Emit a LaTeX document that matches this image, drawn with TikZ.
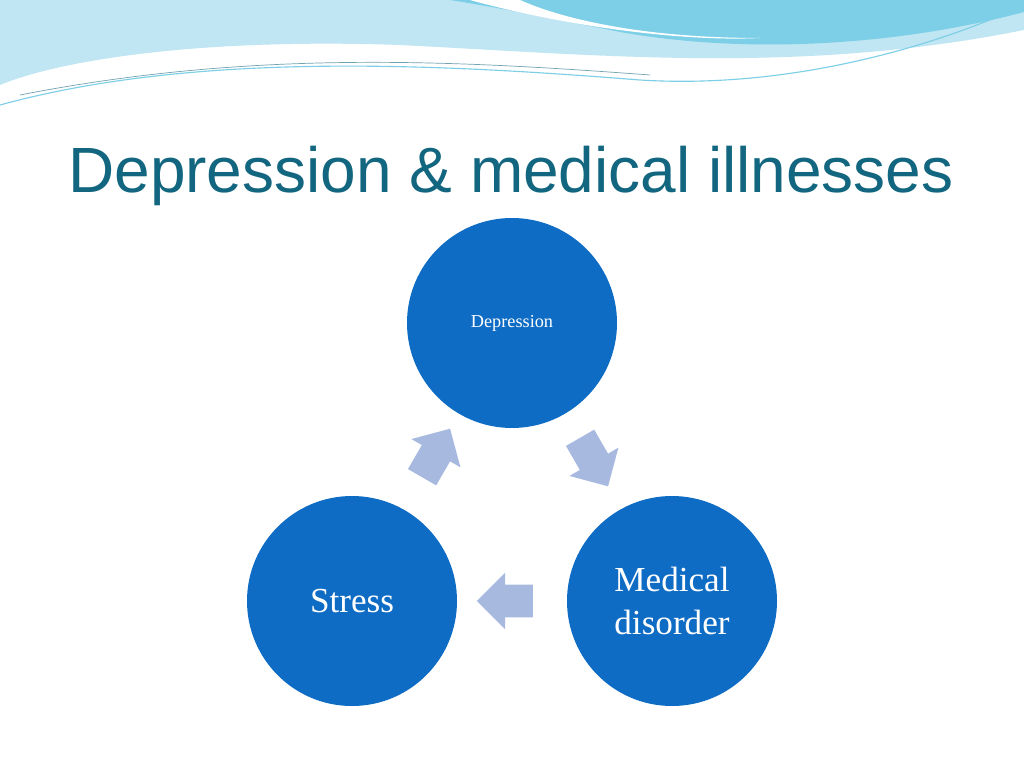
\documentclass[tikz,border=0pt]{standalone}
\usepackage{fontspec}
\setmainfont{Liberation Serif}
\newfontfamily\titlefont{Liberation Sans}
\usetikzlibrary{shapes.arrows}
\definecolor{circblue}{HTML}{0F6CC4}
\definecolor{arrowblue}{HTML}{A8B9E0}
\definecolor{titleblue}{HTML}{12667F}
\definecolor{wavelight}{HTML}{BFE6F2}
\definecolor{wavemid}{HTML}{7CCFE6}
\tikzset{
  cycnode/.style={circle,fill=circblue,minimum size=210*0.025cm,inner sep=0pt,text=white,align=center},
  flowarrow/.style={single arrow,fill=arrowblue,minimum height=56*0.025cm,inner xsep=0pt,inner ysep=0.4cm,single arrow head extend=0.3cm,single arrow head indent=0cm}
}
\begin{document}
\begin{tikzpicture}[x=0.025cm,y=-0.025cm]
\useasboundingbox[fill=white] (0,0) rectangle (1024,768);
% wave at top
\fill[wavelight] (0,0) -- (1024,0) -- (1024,30) .. controls (800,75) and (600,55) .. (400,45) .. controls (200,38) and (60,60) .. (0,85) -- cycle;
\fill[wavemid] (450,0) -- (1024,0) -- (1024,12) .. controls (900,45) and (750,55) .. (620,32) .. controls (550,18) and (500,8) .. (450,0) -- cycle;
\fill[white] (470,0) .. controls (560,25) and (680,42) .. (760,38) .. controls (640,38) and (560,18) .. (520,0) -- cycle;
\draw[wavemid,line width=0.8pt] (0,105) .. controls (200,50) and (450,65) .. (640,80) .. controls (800,90) and (950,40) .. (1024,5);
\draw[titleblue!60,line width=0.5pt] (20,95) .. controls (250,50) and (450,60) .. (650,75);
% title
\node[text=titleblue,font=\titlefont\fontsize{45.5}{52}\selectfont] (title) at (511,176) {Depression \& medical illnesses};
% cycle
\node[cycnode,font=\fontsize{13}{15}\selectfont] (dep) at (512,323) {Depression};
\node[cycnode,font=\fontsize{25}{30}\selectfont] (med) at (672,601) {Medical\\disorder};
\node[cycnode,font=\fontsize{25}{30}\selectfont] (str) at (352,601) {Stress};
\node[flowarrow,rotate=-60] (a1) at (590,455) {};
\node[flowarrow,rotate=180] (a2) at (513,601) {};
\node[flowarrow,rotate=60] (a3) at (432,460) {};
\end{tikzpicture}
\end{document}
